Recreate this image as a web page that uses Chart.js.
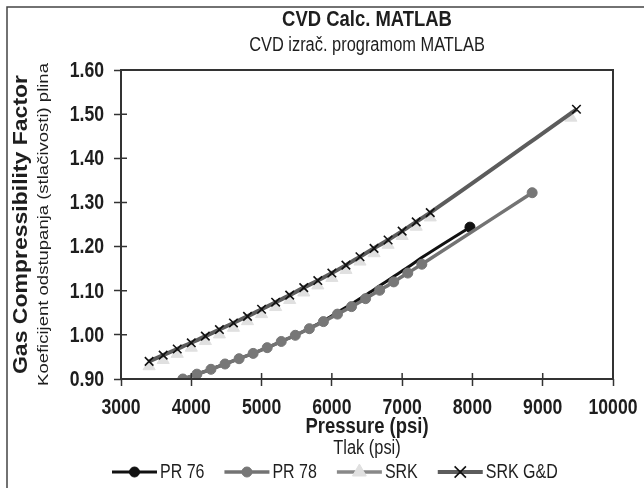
<!DOCTYPE html>
<html>
<head>
<meta charset="utf-8">
<title>CVD Calc. MATLAB</title>
<script src="https://cdn.jsdelivr.net/npm/chart.js@4.4.1/dist/chart.umd.min.js"></script>
<style>
    html, body { margin: 0; padding: 0; background: #fff; }
    #wrap { width: 644px; height: 488px; }
</style>
</head>
<body>
<div id="wrap"><canvas id="cvdChart" width="644" height="488"></canvas></div>
<script>
// Data
const xTicks = [3000, 4000, 5000, 6000, 7000, 8000, 9000, 10000];
const yTicks = [0.90, 1.00, 1.10, 1.20, 1.30, 1.40, 1.50, 1.60];

const pr76Pressure = [3880, 4080, 4280, 4480, 4680, 4880, 5080, 5280, 5480, 5680, 5880, 6080, 6280, 6480, 6680, 6880, 7080, 7280, 7965];
const pr76Z = [0.900, 0.911, 0.922, 0.934, 0.946, 0.958, 0.971, 0.985, 0.999, 1.015, 1.032, 1.051, 1.070, 1.090, 1.111, 1.132, 1.153, 1.175, 1.244];

const pr78Pressure = [3880, 4080, 4280, 4480, 4680, 4880, 5080, 5280, 5480, 5680, 5880, 6080, 6280, 6480, 6680, 6880, 7080, 7280, 8850];
const pr78Z = [0.900, 0.911, 0.922, 0.934, 0.946, 0.958, 0.971, 0.985, 0.999, 1.014, 1.030, 1.047, 1.064, 1.082, 1.101, 1.120, 1.140, 1.160, 1.322];

const srkPressure = [3400, 3600, 3800, 4000, 4200, 4400, 4600, 4800, 5000, 5200, 5400, 5600, 5800, 6000, 6200, 6400, 6600, 6800, 7000, 7200, 7400, 9400];
const srkZ = [0.929, 0.943, 0.957, 0.971, 0.986, 1.001, 1.016, 1.031, 1.047, 1.063, 1.079, 1.096, 1.112, 1.129, 1.147, 1.166, 1.185, 1.204, 1.224, 1.245, 1.266, 1.492];

const srkGdPressure = [3400, 3600, 3800, 4000, 4200, 4400, 4600, 4800, 5000, 5200, 5400, 5600, 5800, 6000, 6200, 6400, 6600, 6800, 7000, 7200, 7400, 9480];
const srkGdZ = [0.940, 0.954, 0.968, 0.982, 0.997, 1.012, 1.027, 1.042, 1.058, 1.074, 1.090, 1.107, 1.123, 1.140, 1.158, 1.177, 1.196, 1.215, 1.235, 1.256, 1.277, 1.511];

const seriesNames = ['PR 76', 'PR 78', 'SRK', 'SRK G&D'];

// The original uses a narrow-looking face; squeeze regular text if no narrow face exists
function hasFont(name) {
    const c = document.createElement('canvas').getContext('2d');
    const sample = 'abcdefghijklmnopqrstuvwxyz0123456789';
    c.font = '40px monospace';
    const a = c.measureText(sample).width;
    c.font = `40px "${name}", monospace`;
    return c.measureText(sample).width !== a;
}
const narrow = hasFont('Liberation Sans Narrow');
const FAMILY = narrow ? '"Liberation Sans Narrow", sans-serif' : '"Liberation Sans", Arial, sans-serif';
const SX = narrow ? 1 : 0.82;
const TEXT = '#1e1e1e';

function toPoints(xs, ys) {
    return xs.map((x, i) => ({ x: x, y: ys[i] }));
}

// horizontal text: squeezed along its length
function flatText(ctx, text, x, y, font, align) {
    ctx.save();
    ctx.font = font;
    ctx.translate(x, y);
    ctx.scale(SX, 1);
    ctx.textAlign = align;
    ctx.textBaseline = 'middle';
    ctx.fillStyle = TEXT;
    ctx.fillText(text, 0, 0);
    ctx.restore();
}

// vertical text: squeezed across its height (picture is stretched vertically)
function upText(ctx, text, x, y, font, across) {
    ctx.save();
    ctx.font = font;
    ctx.translate(x, y);
    ctx.rotate(-Math.PI / 2);
    ctx.scale(1, across);
    ctx.textAlign = 'center';
    ctx.textBaseline = 'middle';
    ctx.fillStyle = TEXT;
    ctx.fillText(text, 0, 0);
    ctx.restore();
}

const lastOnly = (r) => (ctx) => ctx.dataIndex === ctx.dataset.data.length - 1 ? r : 0;

// Titles, frame, tick labels and legend
const decorPlugin = {
    id: 'decor',
    beforeDraw(chart) {
        const ctx = chart.ctx;
        ctx.save();
        ctx.fillStyle = '#ffffff';
        ctx.fillRect(0, 0, chart.width, chart.height);
        ctx.restore();
    },
    afterDraw(chart) {
        const ctx = chart.ctx;
        const area = chart.chartArea;
        const xs = chart.scales.x;
        const ys = chart.scales.y;
        ctx.save();

        // outer frame
        ctx.strokeStyle = '#444';
        ctx.lineWidth = 1.5;
        ctx.beginPath();
        ctx.moveTo(7, chart.height);
        ctx.lineTo(7, 7);
        ctx.lineTo(chart.width, 7);
        ctx.stroke();

        // plot box
        ctx.strokeStyle = '#333';
        ctx.lineWidth = 2;
        ctx.strokeRect(area.left, area.top, area.right - area.left, area.bottom - area.top);

        // inner half of the tick marks
        ctx.lineWidth = 1.5;
        ctx.beginPath();
        xs.ticks.forEach(t => {
            const px = xs.getPixelForValue(t.value);
            ctx.moveTo(px, area.bottom);
            ctx.lineTo(px, area.bottom - 6);
        });
        ys.ticks.forEach(t => {
            const py = ys.getPixelForValue(t.value);
            ctx.moveTo(area.left, py);
            ctx.lineTo(area.left + 6, py);
        });
        ctx.stroke();

        const tickFont = `bold 21.5px ${FAMILY}`;
        const boldTitle = `bold 22.5px ${FAMILY}`;
        const regTitle = `20px ${FAMILY}`;

        // tick labels
        xs.ticks.forEach(t => {
            flatText(ctx, String(t.value), xs.getPixelForValue(t.value), 408, tickFont, 'center');
        });
        ys.ticks.forEach(t => {
            flatText(ctx, Number(t.value).toFixed(2), 104, ys.getPixelForValue(t.value) + 1, tickFont, 'right');
        });

        const midX = (area.left + area.right) / 2;
        const midY = (area.top + area.bottom) / 2;

        // chart title
        flatText(ctx, 'CVD Calc. MATLAB', midX, 20, boldTitle, 'center');
        flatText(ctx, 'CVD izrač. programom MATLAB', midX, 45, regTitle, 'center');

        // x axis title
        flatText(ctx, 'Pressure (psi)', midX, 427, boldTitle, 'center');
        flatText(ctx, 'Tlak (psi)', midX, 448, regTitle, 'center');

        // y axis title
        upText(ctx, 'Gas Compressibility Factor', 21, midY, `bold 23px ${FAMILY}`, 0.88);
        upText(ctx, 'Koeficijent odstupanja (stlačivosti) plina', 44, midY, `18.5px ${FAMILY}`, SX);

        // legend
        const ly = 472;
        const iconW = 45;
        const gap = 20;
        const legFont = `19.5px ${FAMILY}`;
        ctx.font = legFont;
        const widths = seriesNames.map(n => ctx.measureText(n).width * SX);
        let lx = 112;
        chart.data.datasets.forEach((ds, i) => {
            ctx.strokeStyle = ds.borderColor;
            ctx.lineWidth = ds.borderWidth;
            ctx.beginPath();
            ctx.moveTo(lx, ly);
            ctx.lineTo(lx + iconW, ly);
            ctx.stroke();
            ctx.fillStyle = ds.pointBackgroundColor;
            ctx.strokeStyle = ds.pointBorderColor;
            ctx.lineWidth = ds.pointBorderWidth;
            Chart.helpers.drawPoint(ctx, {
                pointStyle: ds.pointStyle,
                rotation: 0,
                radius: ds.legendRadius,
                borderWidth: ds.pointBorderWidth
            }, lx + iconW / 2, ly);
            flatText(ctx, ds.label, lx + iconW + 3, ly + 1, legFont, 'left');
            lx += iconW + 3 + widths[i] + gap;
        });

        ctx.restore();
    }
};

const ctx = document.getElementById('cvdChart').getContext('2d');
const cvdChart = new Chart(ctx, {
    type: 'line',
    data: {
        datasets: [
            {
                label: seriesNames[0],
                data: toPoints(pr76Pressure, pr76Z),
                borderColor: '#111111',
                borderWidth: 3,
                pointStyle: 'circle',
                pointRadius: lastOnly(5),
                legendRadius: 5,
                pointBackgroundColor: '#111111',
                pointBorderColor: '#111111',
                pointBorderWidth: 1,
                cubicInterpolationMode: 'monotone',
                order: 3
            },
            {
                label: seriesNames[1],
                data: toPoints(pr78Pressure, pr78Z),
                borderColor: '#737373',
                borderWidth: 3.5,
                pointStyle: 'circle',
                pointRadius: 5,
                legendRadius: 5,
                pointBackgroundColor: '#777777',
                pointBorderColor: '#777777',
                pointBorderWidth: 1,
                cubicInterpolationMode: 'monotone',
                order: 2
            },
            {
                label: seriesNames[2],
                data: toPoints(srkPressure, srkZ),
                borderColor: '#888888',
                borderWidth: 3.5,
                showLine: false,
                pointStyle: 'triangle',
                pointRadius: 7,
                legendRadius: 8,
                pointBackgroundColor: '#e0e0e0',
                pointBorderColor: '#e0e0e0',
                pointBorderWidth: 1,
                cubicInterpolationMode: 'monotone',
                order: 4
            },
            {
                label: seriesNames[3],
                data: toPoints(srkGdPressure, srkGdZ),
                borderColor: '#5c5c5c',
                borderWidth: 4,
                pointStyle: 'crossRot',
                pointRadius: 6,
                legendRadius: 8,
                pointBackgroundColor: '#111111',
                pointBorderColor: '#111111',
                pointBorderWidth: 1.6,
                cubicInterpolationMode: 'monotone',
                order: 1
            }
        ]
    },
    options: {
        responsive: false,
        animation: false,
        events: [],
        layout: {
            padding: { left: 0, top: 70, right: 31, bottom: 0 }
        },
        plugins: {
            legend: { display: false },
            title: { display: false },
            tooltip: { enabled: false }
        },
        scales: {
            x: {
                type: 'linear',
                min: xTicks[0],
                max: xTicks[xTicks.length - 1],
                afterFit: (scale) => { scale.height = 109; },
                afterBuildTicks: (scale) => { scale.ticks = xTicks.map(v => ({ value: v })); },
                border: { display: false },
                grid: {
                    drawOnChartArea: false,
                    drawTicks: true,
                    tickLength: 7,
                    tickWidth: 1.5,
                    tickColor: '#333'
                },
                ticks: { display: false }
            },
            y: {
                type: 'linear',
                min: yTicks[0],
                max: yTicks[yTicks.length - 1],
                afterFit: (scale) => { scale.width = 121; },
                afterBuildTicks: (scale) => { scale.ticks = yTicks.map(v => ({ value: v })); },
                border: { display: false },
                grid: {
                    drawOnChartArea: false,
                    drawTicks: true,
                    tickLength: 7,
                    tickWidth: 1.5,
                    tickColor: '#333'
                },
                ticks: { display: false }
            }
        }
    },
    plugins: [decorPlugin]
});
</script>
</body>
</html>
